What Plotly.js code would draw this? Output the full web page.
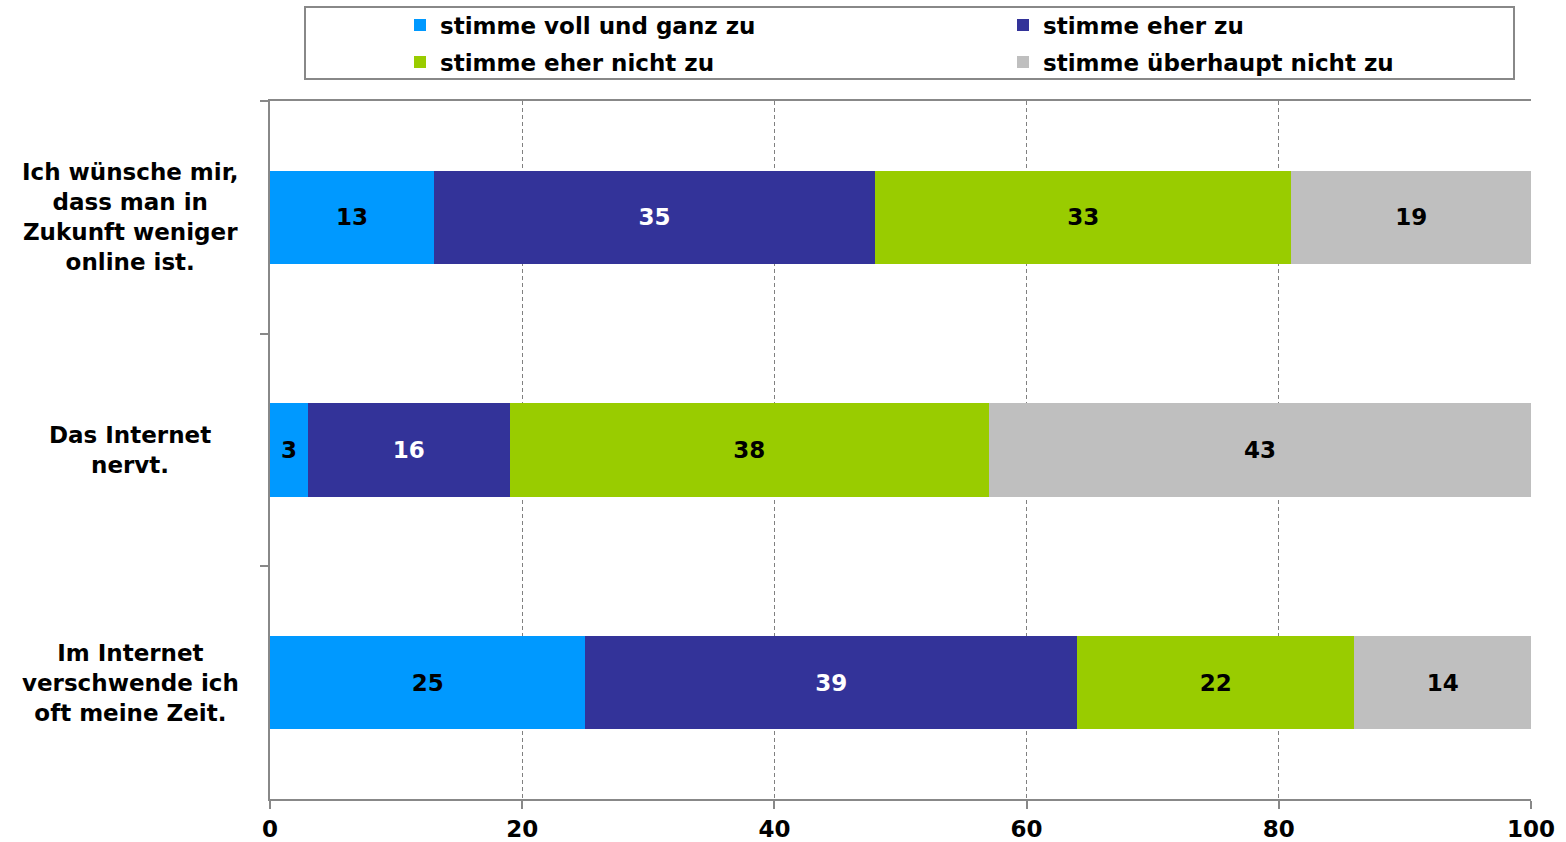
<!DOCTYPE html>
<html><head><meta charset="utf-8">
<script src="https://cdn.plot.ly/plotly-3.0.1.min.js"></script>
<style>html,body{margin:0;padding:0;background:#fff}#chart{width:1566px;height:842px}</style>
</head><body><div id="chart"></div>
<script>
const categories = [
  "Ich wünsche mir,<br>dass man in<br>Zukunft weniger<br>online ist.",
  "Das Internet<br>nervt.",
  "Im Internet<br>verschwende ich<br>oft meine Zeit."
];
const seriesNames = ["stimme voll und ganz zu","stimme eher zu","stimme eher nicht zu","stimme überhaupt nicht zu"];
const vollUndGanz = [13, 3, 25];
const eherZu = [35, 16, 39];
const eherNicht = [33, 38, 22];
const ueberhauptNicht = [19, 43, 14];
const xTicks = [0, 20, 40, 60, 80, 100];

const colors = ["#0099FF", "#333399", "#99CC00", "#BFBFBF"];
const textColors = ["#000000", "#FFFFFF", "#000000", "#000000"];
const legendIds = ["legend", "legend2", "legend3", "legend4"];
const allSeries = [vollUndGanz, eherZu, eherNicht, ueberhauptNicht];
const FONT = "DejaVu Sans, Verdana, sans-serif";
const FS = 23;

const traces = allSeries.map((vals, i) => ({
  type: "bar",
  orientation: "h",
  name: seriesNames[i],
  x: vals,
  y: categories,
  marker: {color: colors[i], line: {width: 0}},
  text: vals.map(String),
  textposition: "inside",
  insidetextanchor: "middle",
  textangle: 0,
  constraintext: "none",
  textfont: {family: FONT, size: FS, color: textColors[i], weight: "bold"},
  legend: legendIds[i],
  hoverinfo: "x+name"
}));

const annotations = categories.map(c => ({
  xref: "paper", yref: "y", x: -0.111, y: c,
  text: c, showarrow: false, align: "center",
  xanchor: "center", yanchor: "middle",
  font: {family: FONT, size: FS, color: "#000", weight: "bold"}
}));

const pxX = p => (p - 270) / 1261;
const pxY = p => (799 - p) / 698;
function legendAt(xpx, ypx) {
  return {
    orientation: "h", xref: "container", yref: "container",
    x: xpx / 1566, y: 1 - ypx / 842, xanchor: "left", yanchor: "middle",
    bgcolor: "rgba(0,0,0,0)", borderwidth: 0,
    font: {family: FONT, size: FS, color: "#000", weight: "bold"}
  };
}

const layout = {
  width: 1566, height: 842,
  margin: {l: 270, r: 35, t: 101, b: 43, pad: 0, autoexpand: false},
  paper_bgcolor: "#fff", plot_bgcolor: "#fff",
  barmode: "stack",
  bargap: 0.6,
  font: {family: FONT, size: FS, color: "#000", weight: "bold"},
  xaxis: {
    range: [0, 100], tickvals: xTicks, ticktext: xTicks.map(String),
    showgrid: true, gridcolor: "#808080", griddash: "4px,3px", gridwidth: 1,
    showline: true, linecolor: "#888888", linewidth: 2, mirror: true,
    ticks: "outside", ticklen: 8, tickcolor: "#888888", tickwidth: 2,
    zeroline: false,
    tickfont: {family: FONT, size: FS, color: "#000", weight: "bold"}
  },
  yaxis: {
    type: "category", categoryorder: "array", categoryarray: categories,
    autorange: "reversed",
    showticklabels: false,
    showline: true, linecolor: "#888888", linewidth: 2,
    ticks: "outside", ticklen: 8, tickcolor: "#888888", tickwidth: 2,
    tickson: "boundaries", showgrid: false, zeroline: false
  },
  shapes: [{
    type: "rect", xref: "paper", yref: "paper",
    x0: pxX(305), x1: pxX(1514), y0: pxY(79), y1: pxY(7),
    line: {color: "#888888", width: 2}, fillcolor: "rgba(0,0,0,0)"
  }],
  legend: legendAt(400, 25),
  legend2: legendAt(1003, 25),
  legend3: legendAt(400, 62),
  legend4: legendAt(1003, 62),
  annotations: annotations,
  showlegend: true
};

Plotly.newPlot("chart", traces, layout, {displayModeBar: false, staticPlot: true});
</script></body></html>
